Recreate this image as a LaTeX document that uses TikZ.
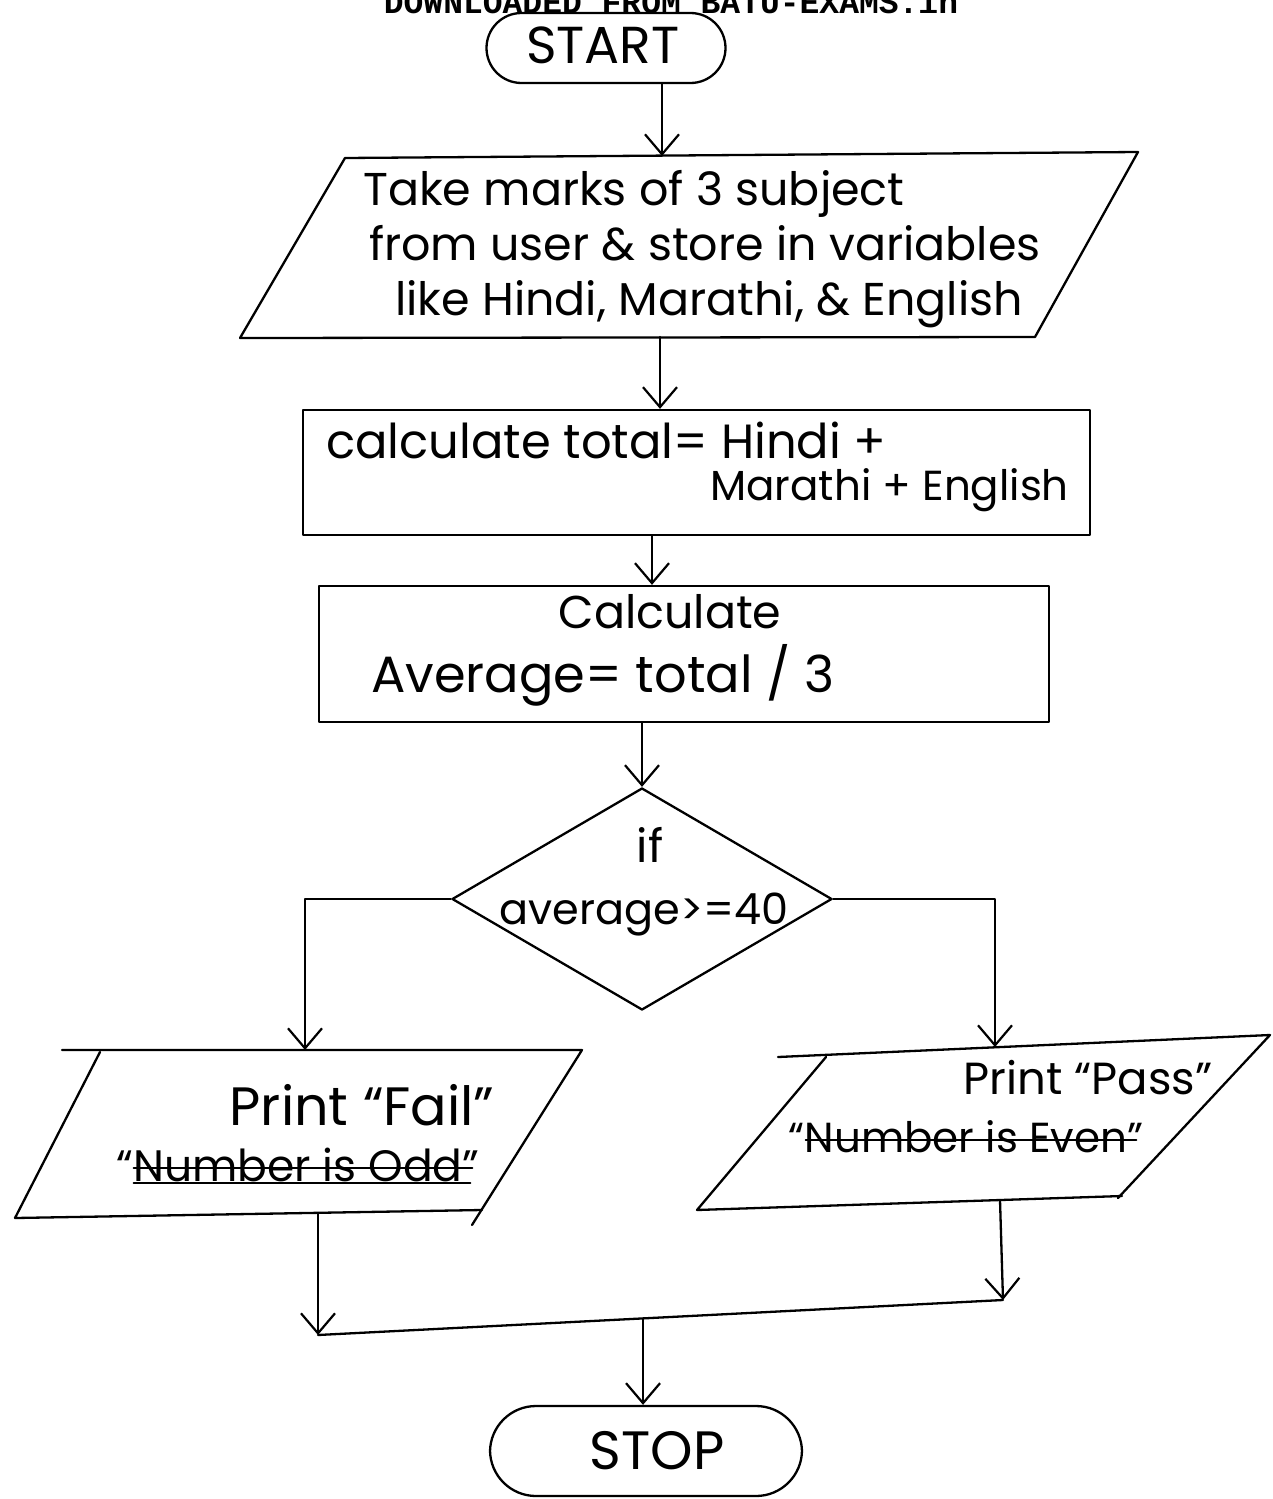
\documentclass[tikz,border=0pt]{standalone}
\usepackage{fontspec}
\setmainfont{Poppins}
\newfontfamily\hdrfont{Liberation Mono}
\usetikzlibrary{arrows.meta,calc,shapes.geometric}

\newcommand{\fsz}[1]{\fontsize{#1}{#1}\selectfont}

\begin{document}
\begin{tikzpicture}[x=1pt,y=-1pt,
  line width=2.3pt, line join=round, line cap=round,
  arr/.style={-{Straight Barb[length=20pt,width=34pt,line width=2.2pt]}},
  term/.style={draw, rectangle, rounded corners=#1, inner sep=0pt},
  box/.style={draw, rectangle, inner sep=0pt},
  hand/.style={inner sep=0pt, font=\fsz{44}},
  strike/.style={line width=1.8pt},
]
\useasboundingbox (0,0) rectangle (1272,1499);

% header line
\node[font=\hdrfont\bfseries\fsz{33}, anchor=base]
  (hdr) at (671,13) {DOWNLOADED FROM BATU-EXAMS.in};

% terminals
\node[term=35pt, minimum width=239pt, minimum height=70pt] (start) at (606,48) {};
\node[hand, font=\fsz{52}] (startlbl) at (603,45) {START};
\node[term=46pt, minimum width=312pt, minimum height=90pt] (stop) at (646,1451) {};
\node[hand, font=\fsz{54}] (stoplbl) at (657,1451) {STOP};

% input: marks of three subjects
\coordinate (p1tl) at (345,158);
\coordinate (p1tr) at (1138,152);
\coordinate (p1br) at (1035,337);
\coordinate (p1bl) at (240,338);
\draw (p1tl) -- (p1tr) -- (p1br) -- (p1bl) -- cycle;
\coordinate (p1top) at (662,156);
\coordinate (p1bot) at (660,337);
\node[hand, font=\fontsize{46}{55}\selectfont, anchor=north west, align=left] (p1txt) at (362,169)
  {Take marks of 3 subject\\ \hspace*{6pt}from user \& store in variables\\ \hspace*{32pt}like Hindi, Marathi, \& English};

% process: total
\node[box, minimum width=787pt, minimum height=125pt] (total) at (696.5,472.5) {};
\node[hand, font=\fsz{48}, anchor=west] (tot1) at (325,440) {calculate total= Hindi +};
\node[hand, font=\fsz{42}, anchor=east] (tot2) at (1070,490) {Marathi + English};

% process: average
\node[box, minimum width=730pt, minimum height=136pt] (avg) at (684,654) {};
\node[hand, font=\fsz{46}] (avg1) at (670,612) {Calculate};
\node[hand, anchor=west, font=\fsz{51}] (avg2) at (370,675) {Average= total / 3};

% decision
\node[draw, diamond, minimum width=380pt, minimum height=222pt, inner sep=0pt] (dec) at (642,899) {};
\node[hand, font=\fsz{46}] (if) at (650,845) {if};
\node[hand, font=\fsz{43}] (cond) at (644,915) {average>=40};

% output: fail
\draw (62,1050) -- (582,1050) -- (472,1225);
\draw (100,1052) -- (15,1218) -- (482,1210);
\coordinate (lptop) at (305,1050);
\coordinate (lpbot) at (318,1214);
\node[hand, font=\fsz{54}] (fail) at (362,1105) {Print “Fail”};
\node[hand, font=\fsz{44}] (odd) at (298,1165) {“Number is Odd”};
\draw[strike] ([xshift=18pt,yshift=-3pt]odd.west) -- ([xshift=-8pt,yshift=-3pt]odd.east);
\draw[strike] ([xshift=18pt]odd.south west) -- ([xshift=-10pt]odd.south east);

% output: pass
\draw (778,1057) -- (1270,1035) -- (1118,1198);
\draw (826,1057) -- (697,1210) -- (1122,1196);
\coordinate (rptop) at (995,1047);
\coordinate (rpbot) at (1000,1200);
\node[hand, font=\fsz{45}] (pass) at (1088,1078) {Print “Pass”};
\node[hand, font=\fsz{42}] (even) at (966,1137) {“Number is Even”};
\draw[strike] ([xshift=18pt,yshift=-3pt]even.west) -- ([xshift=-8pt,yshift=-3pt]even.east);

% join point below the outputs
\coordinate (jl) at (318,1335);
\coordinate (jr) at (1003,1300);
\coordinate (jm) at ($(jl)!0.4745!(jr)$);

% connectors
\draw[arr] (start.south -| p1top) -- (p1top);
\draw[arr] (p1bot) -- (total.north -| p1bot);
\draw[arr] ([xshift=-44.5pt]total.south) -- ([xshift=-44.5pt]total.south |- avg.north);
\draw[arr] (avg.south -| dec.north) -- (dec.north);
\draw[arr] (dec.west) -| (lptop);
\draw[arr] (dec.east) -| (rptop);
\draw[arr] (lpbot) -- (jl);
\draw[arr] (rpbot) -- (jr);
\draw (jl) -- (jr);
\draw[arr] (jm) -- (stop.north -| jm);
\end{tikzpicture}
\end{document}
